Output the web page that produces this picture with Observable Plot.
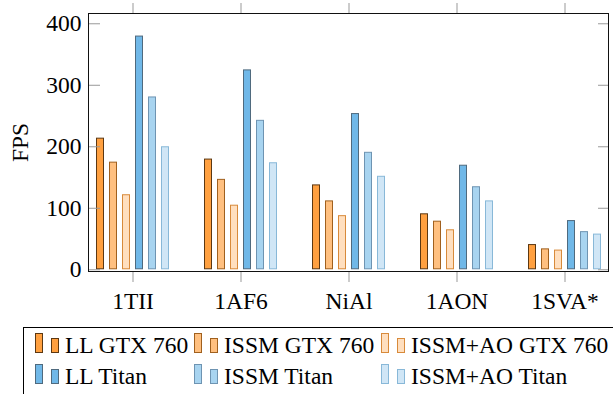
<!DOCTYPE html>
<html><head><meta charset="utf-8">
<script src="https://cdn.jsdelivr.net/npm/d3@7"></script>
<script src="https://cdn.jsdelivr.net/npm/@observablehq/plot@0.6"></script>
<style>
body{margin:0;background:#fff;overflow:hidden;}
#wrap{position:relative;width:613px;height:394px;overflow:hidden;font-family:"Liberation Serif","Times New Roman",serif;background:#fff;}
#chart{position:absolute;left:0;top:0;}
#chart svg text{font-family:"Liberation Serif","Times New Roman",serif !important;font-variant:normal !important;}
#legend{position:absolute;left:23px;top:327px;width:640px;height:100px;border:1px solid #000;box-sizing:border-box;font-size:23.5px;color:#000;}
.item{position:absolute;white-space:nowrap;line-height:1;}
.sw{display:inline-block;vertical-align:baseline;border:1px solid;box-sizing:border-box;}
.tall{width:8px;height:20px;margin-right:8px;}
.short{width:8px;height:15px;margin-right:6px;}
</style></head>
<body><div id="wrap"><div id="chart"></div><div id="legend"></div></div>
<script>
const groups = ["1TII", "1AF6", "NiAl", "1AON", "1SVA*"];
const series = ["LL GTX 760", "ISSM GTX 760", "ISSM+AO GTX 760", "LL Titan", "ISSM Titan", "ISSM+AO Titan"];
const llGtx760 = [214, 180, 138, 91, 41];
const issmGtx760 = [175, 147, 112, 79, 34];
const issmAoGtx760 = [122, 105, 88, 65, 32];
const llTitan = [380, 325, 254, 170, 80];
const issmTitan = [281, 243, 191, 135, 62];
const issmAoTitan = [200, 174, 152, 112, 58];
const yTicks = [0, 100, 200, 300, 400];
const fills = ["#ffa040", "#ffc080", "#ffdfbf", "#70b8e8", "#a8d4f0", "#d0e6f6"];
const strokes = ["#5c3812", "#a0601e", "#d88a3a", "#4f6a7e", "#6e94b2", "#88b8d8"];

const values = [llGtx760, issmGtx760, issmAoGtx760, llTitan, issmTitan, issmAoTitan];
const tables = series.map((s, i) => groups.map((g, j) => ({group: g, series: s, fps: values[i][j]})));

const W = 613, H = 320, mt = 13, mb = 49, ml = 88, mr = 4;
const FS = 23.5;
const FF = "'Liberation Serif', 'Times New Roman', serif";

const bars = tables.map((t, i) => Plot.barY(t, {
  fx: "group", x: "series", y: "fps",
  fill: fills[i], stroke: strokes[i], strokeWidth: 1, inset: 0.5
}));

const chart = Plot.plot({
  width: W, height: H, marginTop: mt, marginBottom: mb, marginLeft: ml, marginRight: mr,
  style: {fontFamily: FF, fontSize: FS + "px", background: "white", color: "black"},
  fx: {domain: groups, paddingInner: 0.19, paddingOuter: 0, label: null},
  x: {domain: series, paddingInner: 0.376, paddingOuter: 0.485, axis: null},
  y: {domain: [-2.8, 416.7]},
  marks: [
    ...bars,
    Plot.axisY(yTicks, {anchor: "left", tickSize: 0, tickPadding: 8, fontSize: FS, fontFamily: FF, fontVariant: "normal", label: "FPS", labelAnchor: "center", labelOffset: 78, labelArrow: "none"}),
    Plot.axisY(yTicks, {anchor: "left", tickSize: 11, dx: 11, fill: "none", stroke: "#999", label: null}),
    Plot.axisY(yTicks, {anchor: "right", tickSize: 11, dx: -11, fill: "none", stroke: "#999", label: null}),
    Plot.axisFx({anchor: "bottom", tickSize: 11, tickPadding: 10, stroke: "#999", fontSize: FS, fontFamily: FF, label: null}),
    Plot.axisFx({anchor: "top", tickSize: 11, fill: "none", stroke: "#999", label: null})
  ]
});
document.getElementById("chart").appendChild(chart);

// plot-area frame
d3.select(chart).append("rect")
  .attr("x", ml + 0.5).attr("y", mt + 0.5)
  .attr("width", W - ml - mr - 1).attr("height", H - mt - mb)
  .attr("fill", "none").attr("stroke", "#111").attr("stroke-width", 1);

// legend
const legend = document.getElementById("legend");
const cols = [11, 170, 357];
const rows = [5, 36];
series.forEach((s, i) => {
  const item = document.createElement("div");
  item.className = "item";
  item.style.left = cols[i % 3] + "px";
  item.style.top = rows[Math.floor(i / 3)] + "px";
  const a = document.createElement("span");
  a.className = "sw tall"; a.style.background = fills[i]; a.style.borderColor = strokes[i];
  const b = document.createElement("span");
  b.className = "sw short"; b.style.background = fills[i]; b.style.borderColor = strokes[i];
  item.appendChild(a); item.appendChild(b);
  item.appendChild(document.createTextNode(s));
  legend.appendChild(item);
});
</script>
</body></html>
